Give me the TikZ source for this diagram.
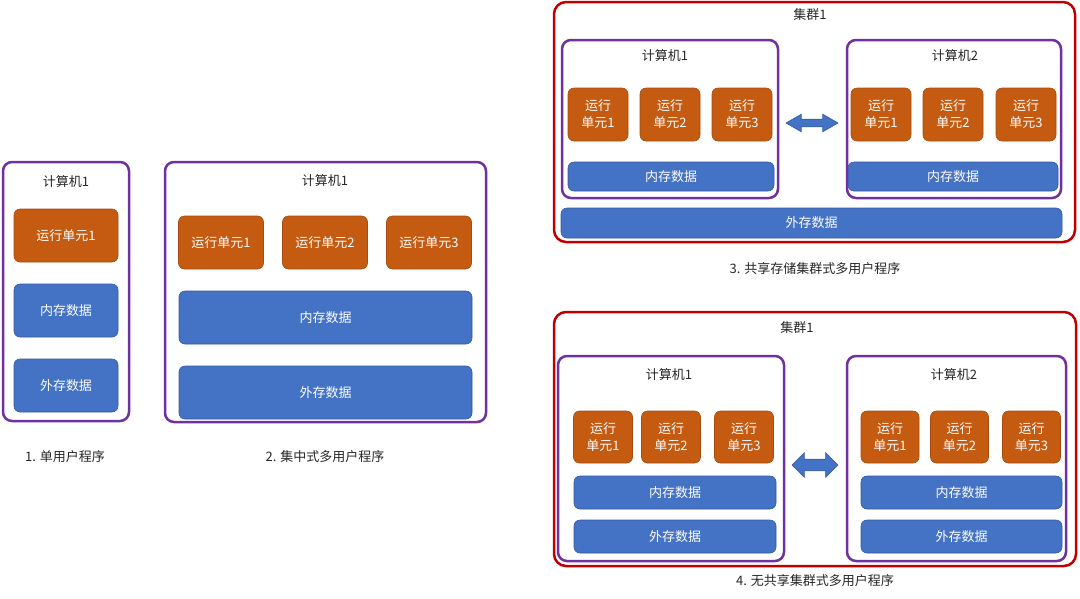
\documentclass[tikz,border=0pt]{standalone}
\usepackage{fontspec}
\setmainfont{Noto Sans CJK SC}
\usetikzlibrary{shapes.arrows}
\definecolor{pcpurple}{HTML}{7030A0}
\definecolor{clusterred}{HTML}{C00000}
\definecolor{unitorange}{HTML}{C55A11}
\definecolor{datablue}{HTML}{4472C4}

\begin{document}
\begin{tikzpicture}[x=1pt,y=-1pt]
\tikzstyle{every node}=[font=\fontsize{13}{17}\selectfont,text=black!85,inner sep=0pt]
\tikzstyle{pcbox}=[draw=pcpurple,line width=2.5pt,rounded corners=9pt]
\tikzstyle{clusterbox}=[draw=clusterred,line width=2.5pt,rounded corners=12pt]
\tikzstyle{unitbox}=[fill=unitorange,draw=unitorange!85!black,line width=0.6pt,rounded corners=6pt,text=white,align=center]
\tikzstyle{databox}=[fill=datablue,draw=datablue!80!black,line width=0.6pt,rounded corners=6pt,text=white]
\tikzstyle{linkarrow}=[double arrow,fill=datablue,draw=datablue!80!black,line width=0.6pt,minimum width=0pt]
\useasboundingbox (0,0) rectangle (1080,598);

% 1
\node[pcbox,minimum width=126pt,minimum height=259pt] (pc1) at (66,291.5) {};
\node (t1) at (66,182) {计算机1};
\node[unitbox,minimum width=104pt,minimum height=53pt] (u1) at (66,235.5) {运行单元1};
\node[databox,minimum width=104pt,minimum height=53pt] (m1) at (66,310.5) {内存数据};
\node[databox,minimum width=104pt,minimum height=53pt] (d1) at (66,385.5) {外存数据};
\node (c1) at (65,457) {1. 单用户程序};

% 2
\node[pcbox,minimum width=321pt,minimum height=260pt] (pc2) at (325.5,292) {};
\node (t2) at (325,181) {计算机1};
\foreach \x/\n in {221/1,325/2,429/3}
  \node[unitbox,minimum width=85pt,minimum height=53pt] (u2\n) at (\x,242.5) {运行单元\n};
\node[databox,minimum width=293pt,minimum height=53pt] (m2) at (325.5,317.5) {内存数据};
\node[databox,minimum width=293pt,minimum height=53pt] (d2) at (325.5,392.5) {外存数据};
\node (c2) at (325,457) {2. 集中式多用户程序};

% 3
\node[clusterbox,minimum width=521pt,minimum height=240pt] (cl3) at (814.5,122) {};
\node (tc3) at (810,15) {集群1};
\node[pcbox,minimum width=216pt,minimum height=158pt] (pc3a) at (670,119) {};
\node (t3a) at (665,56) {计算机1};
\foreach \x/\n in {598/1,670/2,742/3}
  \node[unitbox,minimum width=60pt,minimum height=53pt] (u3a\n) at (\x,114.5) {运行\\单元\n};
\node[databox,minimum width=206pt,minimum height=29pt] (m3a) at (671,176.5) {内存数据};
\node[pcbox,minimum width=214pt,minimum height=158pt] (pc3b) at (954,119) {};
\node (t3b) at (955,56) {计算机2};
\foreach \x/\n in {881/1,953/2,1026/3}
  \node[unitbox,minimum width=60pt,minimum height=53pt] (u3b\n) at (\x,114.5) {运行\\单元\n};
\node[databox,minimum width=210pt,minimum height=29pt] (m3b) at (953,176.5) {内存数据};
\node[databox,minimum width=501pt,minimum height=30pt] (d3) at (811.5,223) {外存数据};
\node[linkarrow,minimum height=52pt,inner ysep=3.5pt,double arrow head extend=5pt,double arrow tip angle=60] (a3) at (812,123) {};
\node (c3) at (815,269) {3. 共享存储集群式多用户程序};

% 4
\node[clusterbox,minimum width=522pt,minimum height=254pt] (cl4) at (815,439) {};
\node (tc4) at (797,328) {集群1};
\node[pcbox,minimum width=226pt,minimum height=205pt] (pc4a) at (671,458.5) {};
\node (t4a) at (669,375) {计算机1};
\foreach \x/\n in {603/1,671/2,744/3}
  \node[unitbox,minimum width=59pt,minimum height=52pt] (u4a\n) at (\x,437) {运行\\单元\n};
\node[databox,minimum width=202pt,minimum height=33pt] (m4a) at (675,492.5) {内存数据};
\node[databox,minimum width=202pt,minimum height=33pt] (d4a) at (675,536.5) {外存数据};
\node[pcbox,minimum width=219pt,minimum height=205pt] (pc4b) at (956.5,458.5) {};
\node (t4b) at (954,375) {计算机2};
\foreach \x/\n in {890/1,959.5/2,1031.5/3}
  \node[unitbox,minimum width=58pt,minimum height=52pt] (u4b\n) at (\x,437) {运行\\单元\n};
\node[databox,minimum width=201pt,minimum height=33pt] (m4b) at (961.5,492.5) {内存数据};
\node[databox,minimum width=201pt,minimum height=33pt] (d4b) at (961.5,536.5) {外存数据};
\node[linkarrow,minimum height=46pt,inner ysep=5.5pt,double arrow head extend=6.5pt,double arrow tip angle=90] (a4) at (815,465) {};
\node (c4) at (815,581) {4. 无共享集群式多用户程序};

\end{tikzpicture}
\end{document}
